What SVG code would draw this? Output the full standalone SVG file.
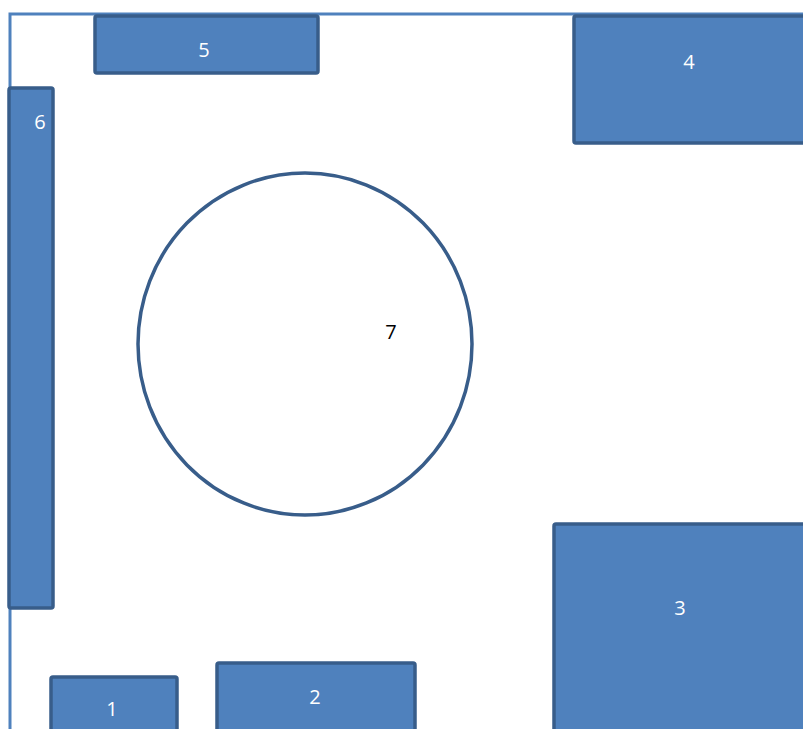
<svg xmlns="http://www.w3.org/2000/svg" width="803" height="729" viewBox="0 0 803 729">
<style>
.box{fill:#4f81bd;stroke:#385d8a;stroke-width:3.5;}
.lbl{font-family:"Open Sans","Liberation Sans",sans-serif;font-size:20px;fill:#ffffff;text-anchor:middle;}
.wall{fill:none;stroke:#4f81bd;stroke-width:3;}
</style>
<rect width="803" height="729" fill="#ffffff"/>
<g id="walls"><path class="wall" d="M10,729 V14 H803"/></g>
<g id="node5"><rect class="box" x="95" y="16" width="223" height="57" rx="2"/><text class="lbl" x="204" y="57">5</text></g>
<g id="node4"><rect class="box" x="574" y="16" width="232" height="127" rx="2"/><text class="lbl" x="689" y="69">4</text></g>
<g id="node6"><rect class="box" x="9" y="88" width="44" height="520" rx="2"/><text class="lbl" x="40" y="129">6</text></g>
<g id="node7"><ellipse cx="305" cy="344" rx="167" ry="171" fill="none" stroke="#385d8a" stroke-width="3.5"/><text x="391" y="339" font-family="'Open Sans','Liberation Sans',sans-serif" font-size="20" fill="#000000" text-anchor="middle">7</text></g>
<g id="node3"><rect class="box" x="554" y="524" width="252" height="210" rx="2"/><text class="lbl" x="680" y="615">3</text></g>
<g id="node2"><rect class="box" x="217" y="663" width="198" height="70" rx="2"/><text class="lbl" x="315" y="704">2</text></g>
<g id="node1"><rect class="box" x="51" y="677" width="126" height="56" rx="2"/><text class="lbl" x="112" y="716" font-size="18">1</text></g>
<g id="connectors"></g>
</svg>
